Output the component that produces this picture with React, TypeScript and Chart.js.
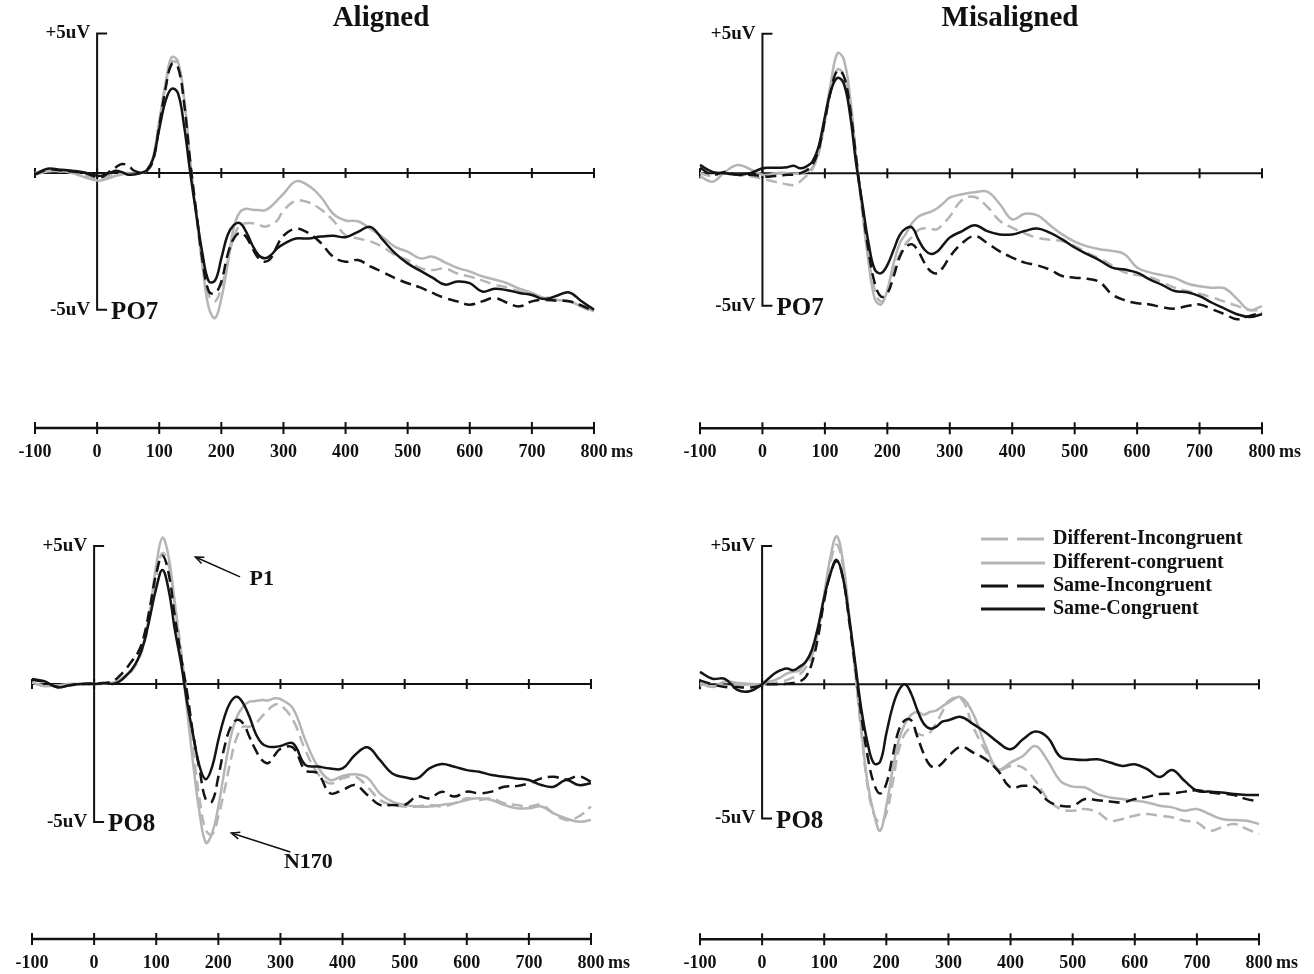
import React, { useEffect, useRef } from "react";
import { Chart, registerables } from "chart.js";

Chart.register(...registerables);

// ---------- data ----------
const TIME = [
  -100, -80, -60, -40, -20, 0,
  10, 20, 30, 40, 50, 60, 70, 80, 90, 100, 110, 120, 130, 140, 150, 160, 170, 180, 190, 200,
  210, 220, 230, 240, 250, 260, 270, 280, 290, 300,
  320, 340, 360, 380, 400, 420, 440, 460, 480, 500, 520, 540, 560, 580, 600,
  620, 640, 660, 680, 700, 720, 740, 760, 780, 800,
];
const TICKS = [-100, 0, 100, 200, 300, 400, 500, 600, 700, 800];
const TICK_LABELS = ["-100", "0", "100", "200", "300", "400", "500", "600", "700", "800"];
const TIME_UNIT = "ms";
const SERIES_NAMES = {
  DI: "Different-Incongruent",
  DC: "Different-congruent",
  SI: "Same-Incongruent",
  SC: "Same-Congruent",
};
const LEGEND_ORDER = ["DI", "DC", "SI", "SC"];

// Aligned – PO7
const AL_PO7_SC = [
  -0.05, 0.15, 0.12, 0.08, 0.02, -0.1,
  -0.08, 0, 0.08, 0.03, -0.06, -0.05, 0, 0.1, 0.5, 1.57, 2.57, 3.02, 2.87, 1.69, 0.0, -1.52, -2.94, -3.89, -3.85, -3.06, -2.23, -1.87, -1.8, -2.11, -2.59, -2.94, -3.06, -2.94, -2.7, -2.55,
  -2.35, -2.35, -2.28, -2.25, -2.3, -2.11, -1.93, -2.4, -2.88, -3.24, -3.5, -3.75, -4.0, -3.89, -3.95, -4.25, -4.15, -4.2, -4.3, -4.37, -4.52, -4.4, -4.28, -4.6, -4.9,
];
const AL_PO7_SI = [
  -0.05, 0.12, 0.1, 0.05, 0, -0.15,
  -0.12, 0.05, 0.2, 0.32, 0.26, 0.08, 0.02, 0.08, 0.44, 1.68, 3.0, 3.9, 3.8, 2.51, 0.38, -1.45, -3.18, -4.25, -4.3, -3.89, -2.94, -2.35, -2.14, -2.29, -2.7, -3.06, -3.18, -3.05, -2.6, -2.25,
  -2.0, -2.15, -2.5, -3.0, -3.18, -3.12, -3.35, -3.55, -3.77, -3.95, -4.1, -4.3, -4.48, -4.6, -4.72, -4.6, -4.48, -4.65, -4.78, -4.6, -4.55, -4.58, -4.6, -4.75, -4.96,
];
const AL_PO7_DC = [
  -0.05, 0.05, 0.08, 0, -0.15, -0.27,
  -0.25, -0.18, -0.1, -0.05, -0.02, -0.02, 0, 0.1, 0.55, 1.85, 3.2, 4.15, 4.0, 2.7, 0.4, -1.6, -3.4, -4.85, -5.2, -4.5, -3.3, -1.95, -1.4, -1.28, -1.32, -1.33, -1.34, -1.2, -0.98, -0.75,
  -0.3, -0.45, -0.85, -1.46, -1.7, -1.73, -2.0, -2.3, -2.65, -2.82, -3.06, -3.0, -3.2, -3.4, -3.53, -3.7, -3.82, -3.95, -4.15, -4.3, -4.48, -4.55, -4.6, -4.78, -4.96,
];
const AL_PO7_DI = [
  0, 0.1, 0.05, 0.02, -0.1, -0.2,
  -0.18, -0.1, -0.05, -0.02, 0, -0.02, 0, 0.1, 0.55, 1.8, 3.1, 3.98, 3.9, 2.6, 0.4, -1.5, -3.3, -4.4, -4.6, -4.1, -3.18, -2.3, -1.87, -1.8, -1.8, -1.85, -1.93, -1.85, -1.7, -1.35,
  -1.0, -1.05, -1.3, -1.7, -2.23, -2.35, -2.45, -2.65, -2.94, -3.12, -3.4, -3.48, -3.42, -3.6, -3.71, -3.85, -4.0, -4.1, -4.25, -4.37, -4.45, -4.52, -4.6, -4.8, -5.0,
];

// Misaligned – PO7
const MIS_PO7_SC = [
  0.3, 0.05, 0, -0.05, 0, 0.18,
  0.2, 0.2, 0.2, 0.22, 0.27, 0.18, 0.24, 0.42, 0.96, 2.03, 2.99, 3.42, 3.23, 2.15, 0.36, -1.08, -2.51, -3.46, -3.58, -3.29, -2.75, -2.21, -1.97, -1.95, -2.39, -2.75, -2.89, -2.8, -2.55, -2.3,
  -2.07, -1.86, -2.07, -2.19, -2.19, -2.07, -1.98, -2.13, -2.37, -2.66, -2.9, -3.12, -3.38, -3.45, -3.56, -3.8, -4.0, -4.22, -4.26, -4.4, -4.64, -4.85, -5.05, -5.15, -5.05,
];
const MIS_PO7_SI = [
  0.2, -0.05, 0.05, -0.05, -0.05, -0.1,
  -0.12, -0.1, -0.08, -0.05, -0.05, 0, 0.1, 0.3, 0.85, 1.9, 3.0, 3.68, 3.5, 2.4, 0.55, -1.2, -2.8, -3.95, -4.42, -4.3, -3.7, -2.99, -2.63, -2.55, -2.81, -3.23, -3.52, -3.58, -3.35, -2.99,
  -2.5, -2.25, -2.5, -2.8, -3.02, -3.2, -3.3, -3.45, -3.68, -3.74, -3.78, -3.9, -4.34, -4.55, -4.66, -4.7, -4.8, -4.85, -4.76, -4.7, -4.87, -5.05, -5.23, -5.11, -5.0,
];
const MIS_PO7_DC = [
  -0.1, -0.3, 0.05, 0.3, 0.15, -0.05,
  -0.05, 0, 0.02, 0, -0.02, 0, 0.05, 0.2, 0.8, 2.0, 3.3, 4.3, 4.1, 2.8, 0.6, -1.4, -3.2, -4.5, -4.7, -4.18, -3.23, -2.51, -2.15, -1.77, -1.55, -1.45, -1.37, -1.25, -1.07, -0.87,
  -0.75, -0.68, -0.66, -1.1, -1.65, -1.45, -1.5, -1.85, -2.19, -2.45, -2.62, -2.72, -2.78, -2.9, -3.38, -3.55, -3.65, -3.75, -3.95, -4.05, -4.1, -4.12, -4.5, -4.9, -4.76,
];
const MIS_PO7_DI = [
  0, -0.1, 0.05, -0.05, -0.1, -0.2,
  -0.25, -0.3, -0.35, -0.4, -0.42, -0.3, -0.1, 0.15, 0.7, 1.85, 3.0, 3.72, 3.55, 2.5, 0.6, -1.3, -3.0, -4.2, -4.6, -4.3, -3.5, -2.9, -2.51, -2.27, -2.03, -1.97, -2.0, -2.0, -1.8, -1.55,
  -0.95, -0.85, -1.2, -1.7, -1.95, -2.15, -2.31, -2.38, -2.43, -2.6, -2.85, -3.05, -3.3, -3.55, -3.65, -3.72, -3.9, -4.1, -4.22, -4.32, -4.45, -4.6, -4.75, -4.9, -4.9,
];

// Aligned – PO8
const AL_PO8_SC = [
  0.18, 0.1, -0.12, -0.05, 0, 0,
  0.02, 0.03, 0, 0.08, 0.27, 0.51, 0.87, 1.47, 2.44, 3.47, 4.13, 3.41, 1.96, 0.75, -0.7, -1.91, -3.0, -3.45, -3.0, -2.03, -1.18, -0.64, -0.46, -0.7, -1.18, -1.79, -2.15, -2.27, -2.28, -2.25,
  -2.15, -2.93, -2.99, -3.06, -3.06, -2.57, -2.29, -2.75, -3.24, -3.38, -3.42, -3.06, -2.9, -3.0, -3.12, -3.18, -3.3, -3.36, -3.42, -3.48, -3.66, -3.72, -3.48, -3.66, -3.6,
];
const AL_PO8_SI = [
  0.15, 0.08, -0.1, -0.05, 0, 0.02,
  0.03, 0.05, 0.1, 0.27, 0.51, 0.81, 1.11, 1.71, 2.8, 4.0, 4.65, 4.0, 2.44, 0.99, -0.34, -1.91, -3.12, -4.2, -4.25, -3.36, -2.27, -1.55, -1.3, -1.43, -1.91, -2.39, -2.75, -2.87, -2.6, -2.35,
  -2.3, -3.12, -3.24, -3.96, -3.84, -3.66, -4.02, -4.38, -4.38, -4.38, -4.08, -4.14, -3.9, -4.08, -3.9, -3.96, -3.9, -3.72, -3.7, -3.6, -3.42, -3.36, -3.46, -3.34, -3.54,
];
const AL_PO8_DC = [
  0.05, -0.08, -0.05, 0, 0, 0,
  0, 0.02, 0.05, 0.15, 0.3, 0.5, 0.85, 1.5, 2.7, 4.3, 5.3, 4.6, 2.9, 1.0, -1.0, -3.0, -4.7, -5.75, -5.4, -4.44, -3.12, -1.91, -1.18, -0.82, -0.64, -0.62, -0.58, -0.6, -0.52, -0.55,
  -0.88, -2.03, -2.99, -3.48, -3.33, -3.27, -3.4, -3.96, -4.26, -4.38, -4.44, -4.44, -4.38, -4.32, -4.2, -4.14, -4.2, -4.38, -4.5, -4.5, -4.44, -4.69, -4.87, -4.99, -4.93,
];
const AL_PO8_DI = [
  0.05, -0.05, -0.05, 0, 0, 0,
  0, 0.02, 0.05, 0.12, 0.25, 0.45, 0.8, 1.4, 2.5, 3.9, 4.75, 4.3, 2.9, 1.2, -0.6, -2.5, -4.2, -5.3, -5.45, -4.8, -3.84, -2.75, -1.91, -1.55, -1.55, -1.43, -1.18, -0.94, -0.76, -0.76,
  -1.3, -2.39, -3.24, -3.6, -3.42, -3.35, -3.72, -4.2, -4.38, -4.44, -4.44, -4.38, -4.44, -4.32, -4.14, -4.2, -4.14, -4.32, -4.38, -4.44, -4.38, -4.69, -4.93, -4.8, -4.44,
];

// Misaligned – PO8
const MIS_PO8_SC = [
  0.45, 0.2, 0.2, -0.2, -0.25, 0,
  0.2, 0.39, 0.51, 0.57, 0.51, 0.63, 0.81, 1.23, 2.07, 3.15, 4.0, 4.5, 3.87, 2.43, 0.75, -0.94, -2.14, -2.86, -2.8, -1.78, -0.82, -0.22, 0.0, -0.34, -0.94, -1.42, -1.6, -1.54, -1.35, -1.3,
  -1.18, -1.44, -1.74, -2.1, -2.35, -1.99, -1.71, -1.93, -2.62, -2.71, -2.74, -2.71, -2.83, -2.95, -2.89, -3.07, -3.35, -3.1, -3.49, -3.85, -3.88, -3.91, -3.97, -4.0, -4.0,
];
const MIS_PO8_SI = [
  0.14, 0, -0.1, -0.1, -0.12, -0.04,
  0, 0, 0, 0.02, 0.05, 0.1, 0.26, 0.75, 1.7, 3.03, 4.0, 4.45, 3.87, 2.31, 0.6, -1.18, -2.62, -3.59, -3.95, -3.59, -2.62, -1.66, -1.3, -1.3, -1.9, -2.5, -2.92, -3.0, -2.85, -2.6,
  -2.26, -2.47, -2.71, -3.13, -3.73, -3.67, -3.73, -4.21, -4.39, -4.39, -4.15, -4.19, -4.24, -4.27, -4.15, -4.07, -3.97, -3.95, -3.88, -3.83, -3.91, -3.95, -4.0, -4.15, -4.24,
];
const MIS_PO8_DC = [
  0.05, -0.1, 0.1, 0.05, 0.02, 0,
  0.08, 0.15, 0.25, 0.39, 0.45, 0.5, 0.8, 1.1, 1.95, 3.27, 4.6, 5.35, 4.48, 2.55, 0.5, -1.66, -3.59, -4.67, -5.3, -4.4, -3.1, -2.02, -1.42, -1.1, -1.0, -1.1, -1.0, -0.95, -0.8, -0.66,
  -0.46, -1.08, -2.23, -3.07, -2.83, -2.59, -2.23, -2.77, -3.49, -3.7, -3.73, -3.97, -4.09, -4.15, -4.21, -4.27, -4.39, -4.45, -4.57, -4.51, -4.69, -4.87, -4.91, -4.93, -5.05,
];
const MIS_PO8_DI = [
  -0.05, 0.05, -0.05, 0, -0.05, 0,
  0.02, 0.05, 0.1, 0.15, 0.25, 0.35, 0.6, 1.0, 1.9, 3.2, 4.4, 5.05, 4.3, 2.5, 0.4, -1.8, -3.7, -4.7, -5.0, -4.67, -3.59, -2.38, -1.78, -1.6, -1.78, -1.84, -1.75, -1.42, -1.0, -0.6,
  -0.5, -1.56, -2.41, -3.1, -2.95, -3.01, -3.49, -4.15, -4.51, -4.57, -4.51, -4.63, -4.93, -4.87, -4.75, -4.69, -4.75, -4.81, -4.93, -4.99, -5.29, -5.17, -5.05, -5.23, -5.42,
];

// ---------- layout / style ----------
const W = 1314;
const H = 974;
const SERIF = '"Liberation Serif", "Times New Roman", serif';
const INK = "#111111";
const BLACK = "#141414";
const GRAY = "#b5b5b5";
const STYLES: Record<string, { color: string; dash: number[] }> = {
  SC: { color: BLACK, dash: [] },
  SI: { color: BLACK, dash: [11, 6] },
  DC: { color: GRAY, dash: [] },
  DI: { color: GRAY, dash: [11, 6] },
};
const TIME_AXIS_GAP = 255;

type PanelDef = {
  title?: string;
  titleX?: number;
  electrode: string;
  left: number;
  right: number;
  zeroY: number;
  k: number;
  low: number;
  legend?: boolean;
  notes?: boolean;
  series: Record<string, number[]>;
};

const PANELS: PanelDef[] = [
  { title: "Aligned", titleX: 381, electrode: "PO7", left: 35, right: 594, zeroY: 173, k: 27.9, low: -4.9,
    series: { SC: AL_PO7_SC, SI: AL_PO7_SI, DC: AL_PO7_DC, DI: AL_PO7_DI } },
  { title: "Misaligned", titleX: 1010, electrode: "PO7", left: 700, right: 1262, zeroY: 173.3, k: 27.9, low: -4.75,
    series: { SC: MIS_PO7_SC, SI: MIS_PO7_SI, DC: MIS_PO7_DC, DI: MIS_PO7_DI } },
  { electrode: "PO8", left: 32, right: 591, zeroY: 684, k: 27.6, low: -5, notes: true,
    series: { SC: AL_PO8_SC, SI: AL_PO8_SI, DC: AL_PO8_DC, DI: AL_PO8_DI } },
  { electrode: "PO8", left: 700, right: 1259, zeroY: 684.3, k: 27.66, low: -4.85, legend: true,
    series: { SC: MIS_PO8_SC, SI: MIS_PO8_SI, DC: MIS_PO8_DC, DI: MIS_PO8_DI } },
];

// annotation positions in data units (ms, uV)
const NOTES = [
  { text: "P1", at: [270, 3.8], from: [235, 3.88], to: [163, 4.6] },
  { text: "N170", at: [345, -6.45], from: [316, -6.09], to: [221, -5.4] },
];

function seg(ctx: CanvasRenderingContext2D, x1: number, y1: number, x2: number, y2: number) {
  ctx.beginPath();
  ctx.moveTo(x1, y1);
  ctx.lineTo(x2, y2);
  ctx.stroke();
}

function decorPlugin(p: PanelDef) {
  return {
    id: "decor",
    beforeDatasetsDraw(chart: any) {
      const ctx: CanvasRenderingContext2D = chart.ctx;
      const X = (v: number) => chart.scales.x.getPixelForValue(v);
      const Y = (v: number) => chart.scales.y.getPixelForValue(v);
      const y0 = Y(0);
      const xa = X(0);
      const xMin = X(TICKS[0]);
      const xMax = X(TICKS[TICKS.length - 1]);
      ctx.save();
      ctx.strokeStyle = INK;
      ctx.lineWidth = 2;
      ctx.setLineDash([]);
      // zero line with ticks
      seg(ctx, xMin, y0, xMax, y0);
      TICKS.forEach((t) => seg(ctx, X(t), y0 - 5, X(t), y0 + 5));
      // amplitude bracket
      ctx.beginPath();
      ctx.moveTo(xa + 10, Y(5));
      ctx.lineTo(xa, Y(5));
      ctx.lineTo(xa, Y(p.low));
      ctx.lineTo(xa + 10, Y(p.low));
      ctx.stroke();
      // separate time axis
      const ty = y0 + TIME_AXIS_GAP;
      ctx.lineWidth = 2.6;
      seg(ctx, xMin, ty, xMax, ty);
      ctx.lineWidth = 2;
      TICKS.forEach((t) => seg(ctx, X(t), ty - 6, X(t), ty + 6));
      ctx.fillStyle = INK;
      ctx.font = `bold 18px ${SERIF}`;
      ctx.textAlign = "center";
      ctx.textBaseline = "middle";
      TICK_LABELS.forEach((lab, i) => ctx.fillText(lab, X(TICKS[i]), ty + 24));
      ctx.textAlign = "left";
      ctx.fillText(TIME_UNIT, xMax + 17, ty + 24);
      // amplitude labels
      ctx.font = `bold 19px ${SERIF}`;
      ctx.textAlign = "right";
      ctx.fillText("+5uV", xa - 7, Y(5));
      ctx.fillText("-5uV", xa - 7, Y(p.low));
      // electrode
      ctx.font = `bold 25px ${SERIF}`;
      ctx.textAlign = "left";
      ctx.fillText(p.electrode, xa + 14, Y(p.low) + 3);
      // title
      if (p.title) {
        ctx.font = `bold 29px ${SERIF}`;
        ctx.textAlign = "center";
        ctx.fillText(p.title, p.titleX as number, 19);
      }
      ctx.restore();
    },
    afterDatasetsDraw(chart: any) {
      const ctx: CanvasRenderingContext2D = chart.ctx;
      const X = (v: number) => chart.scales.x.getPixelForValue(v);
      const Y = (v: number) => chart.scales.y.getPixelForValue(v);
      ctx.save();
      if (p.legend) {
        const rows = [539, 563, 586, 609];
        LEGEND_ORDER.forEach((key, i) => {
          const st = STYLES[key];
          ctx.strokeStyle = st.color;
          ctx.lineWidth = 3;
          ctx.setLineDash(st.dash.length ? [27, 9] : []);
          seg(ctx, 981, rows[i], 1045, rows[i]);
          ctx.setLineDash([]);
          ctx.fillStyle = INK;
          ctx.font = `bold 20px ${SERIF}`;
          ctx.textAlign = "left";
          ctx.textBaseline = "middle";
          ctx.fillText(SERIES_NAMES[key as keyof typeof SERIES_NAMES], 1053, rows[i]);
        });
      }
      if (p.notes) {
        NOTES.forEach((n) => {
          const fx = X(n.from[0]), fy = Y(n.from[1]);
          const tx = X(n.to[0]), tyy = Y(n.to[1]);
          ctx.strokeStyle = INK;
          ctx.lineWidth = 1.5;
          ctx.setLineDash([]);
          seg(ctx, fx, fy, tx, tyy);
          const ang = Math.atan2(tyy - fy, tx - fx);
          const L = 9;
          ctx.beginPath();
          ctx.moveTo(tx - L * Math.cos(ang - 0.4), tyy - L * Math.sin(ang - 0.4));
          ctx.lineTo(tx, tyy);
          ctx.lineTo(tx - L * Math.cos(ang + 0.4), tyy - L * Math.sin(ang + 0.4));
          ctx.stroke();
          ctx.fillStyle = INK;
          ctx.font = `bold 22px ${SERIF}`;
          ctx.textAlign = "center";
          ctx.textBaseline = "middle";
          ctx.fillText(n.text, X(n.at[0]), Y(n.at[1]));
        });
      }
      ctx.restore();
    },
  };
}

function Panel({ p }: { p: PanelDef }) {
  const ref = useRef<HTMLCanvasElement>(null);
  useEffect(() => {
    const keys = ["SC", "SI", "DC", "DI"]; // index 0 drawn on top
    const chart = new Chart(ref.current as HTMLCanvasElement, {
      type: "line",
      data: {
        datasets: keys.map((key) => ({
          label: SERIES_NAMES[key as keyof typeof SERIES_NAMES],
          data: TIME.map((t, j) => ({ x: t, y: p.series[key][j] })),
          borderColor: STYLES[key].color,
          borderDash: STYLES[key].dash,
          borderWidth: 2.5,
          pointRadius: 0,
          tension: 0.4,
          fill: false,
          clip: false as any,
        })),
      },
      options: {
        responsive: false,
        animation: false,
        events: [],
        layout: {
          padding: {
            left: p.left,
            right: W - p.right,
            top: p.zeroY - 5 * p.k,
            bottom: H - (p.zeroY + 5 * p.k),
          },
        },
        scales: {
          x: { type: "linear", min: -100, max: 800, display: false },
          y: { type: "linear", min: -5, max: 5, display: false },
        },
        plugins: { legend: { display: false }, tooltip: { enabled: false } },
      } as any,
      plugins: [decorPlugin(p)],
    });
    return () => chart.destroy();
  }, [p]);
  return (
    <canvas
      ref={ref}
      width={W}
      height={H}
      style={{ position: "absolute", left: 0, top: 0, width: W, height: H }}
    />
  );
}

export default function App() {
  return (
    <div style={{ position: "absolute", left: 0, top: 0, width: W, height: H, background: "#ffffff", overflow: "hidden" }}>
      {PANELS.map((p, i) => (
        <Panel key={i} p={p} />
      ))}
    </div>
  );
}
